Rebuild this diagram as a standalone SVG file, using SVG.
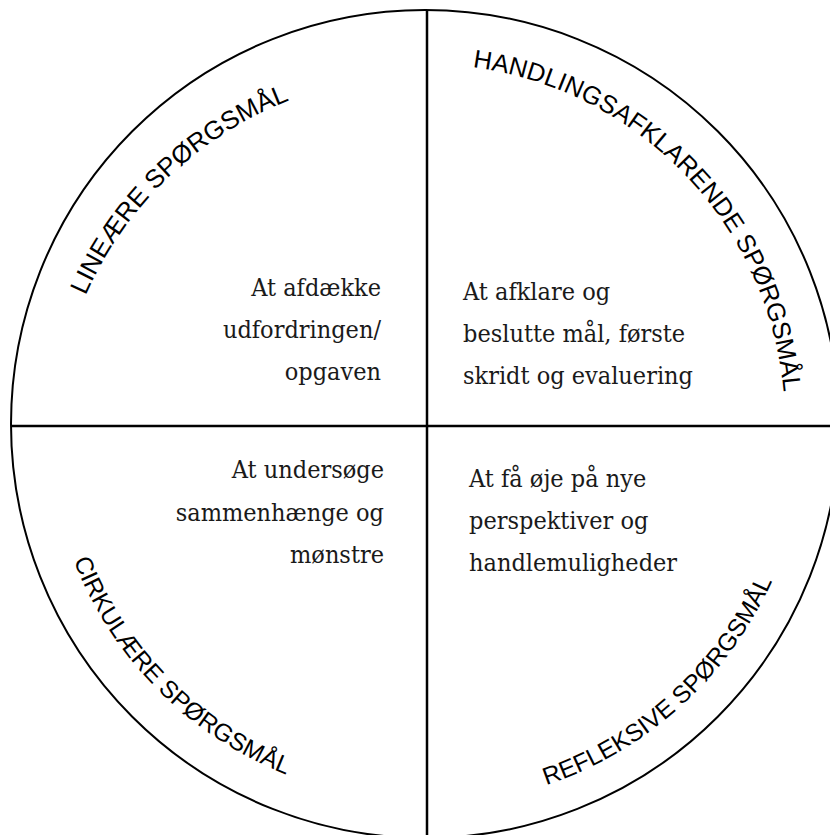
<svg xmlns="http://www.w3.org/2000/svg" xmlns:xlink="http://www.w3.org/1999/xlink" width="830" height="835" viewBox="0 0 830 835">
<style>
.ring{fill:none;stroke:#000;stroke-width:2}
.axis{stroke:#000;stroke-width:2.5}
.arc{font-family:"Liberation Sans",Arial,sans-serif;font-size:24.5px;fill:#000}
.big{font-size:25.8px}
.body{font-family:"DejaVu Serif Condensed","DejaVu Serif",serif;font-stretch:condensed;font-size:25px;fill:#1a1a1a}
</style>
<defs>
<path id="pTL" d="M54,445 A370,370 0 0 1 424,75"/>
<path id="pTR" d="M425,64 A360,360 0 0 1 785,424"/>
<path id="pBL" d="M48,424 A377,377 0 0 0 425,801"/>
<path id="pBR" d="M425,805 A381,381 0 0 0 806,424"/>
</defs>
<rect width="830" height="835" fill="#fff"/>
<g id="connectors">
<circle class="ring" cx="425" cy="424" r="414"/>
<line class="axis" x1="427" y1="10" x2="427" y2="835"/>
<line class="axis" x1="11" y1="426" x2="830" y2="426"/>
</g>
<g id="linear">
<text class="arc big"><textPath xlink:href="#pTL" startOffset="51.4%" text-anchor="middle">LINEÆRE SPØRGSMÅL</textPath></text>
<text class="body" text-anchor="end"><tspan x="381" y="296">At afdække</tspan><tspan x="381" y="338">udfordringen/</tspan><tspan x="381" y="380">opgaven</tspan></text>
</g>
<g id="handling">
<text class="arc big" style="font-size:25.4px"><textPath xlink:href="#pTR" startOffset="51.4%" text-anchor="middle">HANDLINGSAFKLARENDE SPØRGSMÅL</textPath></text>
<text class="body"><tspan x="463" y="300">At afklare og</tspan><tspan x="463" y="342">beslutte mål, første</tspan><tspan x="463" y="384">skridt og evaluering</tspan></text>
</g>
<g id="cirkular">
<text class="arc"><textPath xlink:href="#pBL" startOffset="49.8%" text-anchor="middle">CIRKULÆRE SPØRGSMÅL</textPath></text>
<text class="body" text-anchor="end"><tspan x="384" y="478">At undersøge</tspan><tspan x="384" y="521">sammenhænge og</tspan><tspan x="384" y="563">mønstre</tspan></text>
</g>
<g id="refleksiv">
<text class="arc"><textPath xlink:href="#pBR" startOffset="46.8%" text-anchor="middle">REFLEKSIVE SPØRGSMÅL</textPath></text>
<text class="body"><tspan x="469" y="487">At få øje på nye</tspan><tspan x="469" y="529">perspektiver og</tspan><tspan x="469" y="571">handlemuligheder</tspan></text>
</g>
</svg>
